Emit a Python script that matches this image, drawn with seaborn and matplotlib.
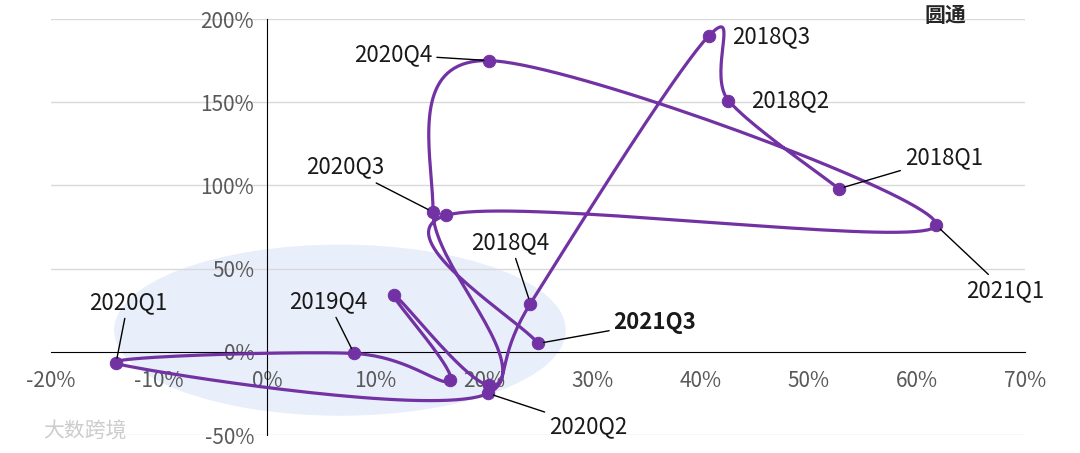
import numpy as np
import matplotlib
matplotlib.use("Agg")
import matplotlib.pyplot as plt
from matplotlib.patches import Ellipse
import seaborn as sns
import pandas as pd

quarters = ["2018Q1","2018Q2","2018Q3","2018Q4","2019Q1","2019Q2","2019Q3","2019Q4",
            "2020Q1","2020Q2","2020Q3","2020Q4","2021Q1","2021Q2","2021Q3"]
x_vals = [52.8, 42.6, 40.8, 24.3, 20.5, 11.7, 16.9, 8.0, -14.0, 20.4, 15.3, 20.5, 61.8, 16.5, 25.0]
y_vals = [98, 151, 190, 29, -20, 34, -17, -1, -7, -25, 84, 175, 76, 82, 5]
x_ticks = [-20, -10, 0, 10, 20, 30, 40, 50, 60, 70]
y_ticks = [-50, 0, 50, 100, 150, 200]
# label offsets in pixels (dx, dy up), with leader line flag
label_pos = {
    "2018Q1": (105, 31, True), "2018Q2": (62, 0, False), "2018Q3": (62, -1, False),
    "2018Q4": (-20, 61, True), "2019Q4": (-26, 52, True), "2020Q1": (12, 61, True),
    "2020Q2": (100, -33, True), "2020Q3": (-88, 45, True), "2020Q4": (-96, 6, True),
    "2021Q1": (69, -65, True), "2021Q3": (117, 21, True),
}
PURPLE = "#7232A4"

sns.set_style("white")
plt.rcParams['font.family'] = ['Noto Sans CJK SC', 'DejaVu Sans']

df = pd.DataFrame({"q": quarters, "x": x_vals, "y": y_vals})

fig = plt.figure(figsize=(10.8, 4.53), dpi=100)
ax = fig.add_axes([51/1080, 18/453, (1025-51)/1080, (435-19)/453])
ax.set_xlim(-20, 70)
ax.set_ylim(-50, 200)

ax.add_patch(Ellipse((6.7, 13), 41.6, 102, color="#E8EEFA", zorder=0))

for t in y_ticks:
    if t != 0:
        ax.axhline(t, color="#D9D9D9", lw=1, zorder=0.5)

P = np.column_stack([x_vals, y_vals]).astype(float)
Pp = np.vstack([P[0], P, P[-1]])
segs = []
for i in range(1, len(Pp) - 2):
    p0, p1, p2, p3 = Pp[i-1], Pp[i], Pp[i+1], Pp[i+2]
    t = np.linspace(0, 1, 40)[:, None]
    seg = 0.5 * ((2*p1) + (-p0 + p2)*t + (2*p0 - 5*p1 + 4*p2 - p3)*t**2 + (-p0 + 3*p1 - 3*p2 + p3)*t**3)
    segs.append(seg)
curve = np.vstack(segs)
ax.plot(curve[:, 0], curve[:, 1], color=PURPLE, lw=2.3, zorder=3)
sns.scatterplot(data=df, x="x", y="y", color=PURPLE, s=80, edgecolor=PURPLE, zorder=4, ax=ax, legend=False)

for q, xv, yv in zip(quarters, x_vals, y_vals):
    if q in label_pos:
        dx, dy, lead = label_pos[q]
        ax.annotate(q, (xv, yv), xytext=(dx*0.72, dy*0.72), textcoords="offset points",
                    ha="center", va="center", fontsize=16, color="#1A1A1A",
                    fontweight="bold" if q == "2021Q3" else "normal",
                    bbox=dict(boxstyle="square,pad=0.2", fc="none", ec="none"),
                    arrowprops=dict(arrowstyle="-", color="black", lw=1, shrinkA=0, shrinkB=4) if lead else None,
                    zorder=5)

for s in ["top", "right"]:
    ax.spines[s].set_visible(False)
ax.spines["left"].set_position(("data", 0))
ax.spines["bottom"].set_position(("data", 0))
ax.spines["left"].set_color("black")
ax.spines["bottom"].set_color("black")
ax.set_xticks(x_ticks)
ax.set_xticklabels([f"{v}%" for v in x_ticks])
ax.set_yticks(y_ticks)
ax.set_yticklabels([f"{v}%" for v in y_ticks])
ax.tick_params(axis="both", labelsize=15, length=6, width=1.2, direction="out")
ax.tick_params(axis="x", colors="black", labelcolor="#595959", pad=7)
ax.tick_params(axis="y", colors="black", labelcolor="#595959")
ax.set_xlabel("")
ax.set_ylabel("")

fig.text(945/1080, 1 - 15/453, "圆通", fontsize=15, fontweight="bold", ha="center", va="center")
fig.text(85/1080, 1 - 432/453, "大数跨境", fontsize=15, color="#CCCCCC", ha="center", va="center")

fig.savefig("out.png", dpi=100)
